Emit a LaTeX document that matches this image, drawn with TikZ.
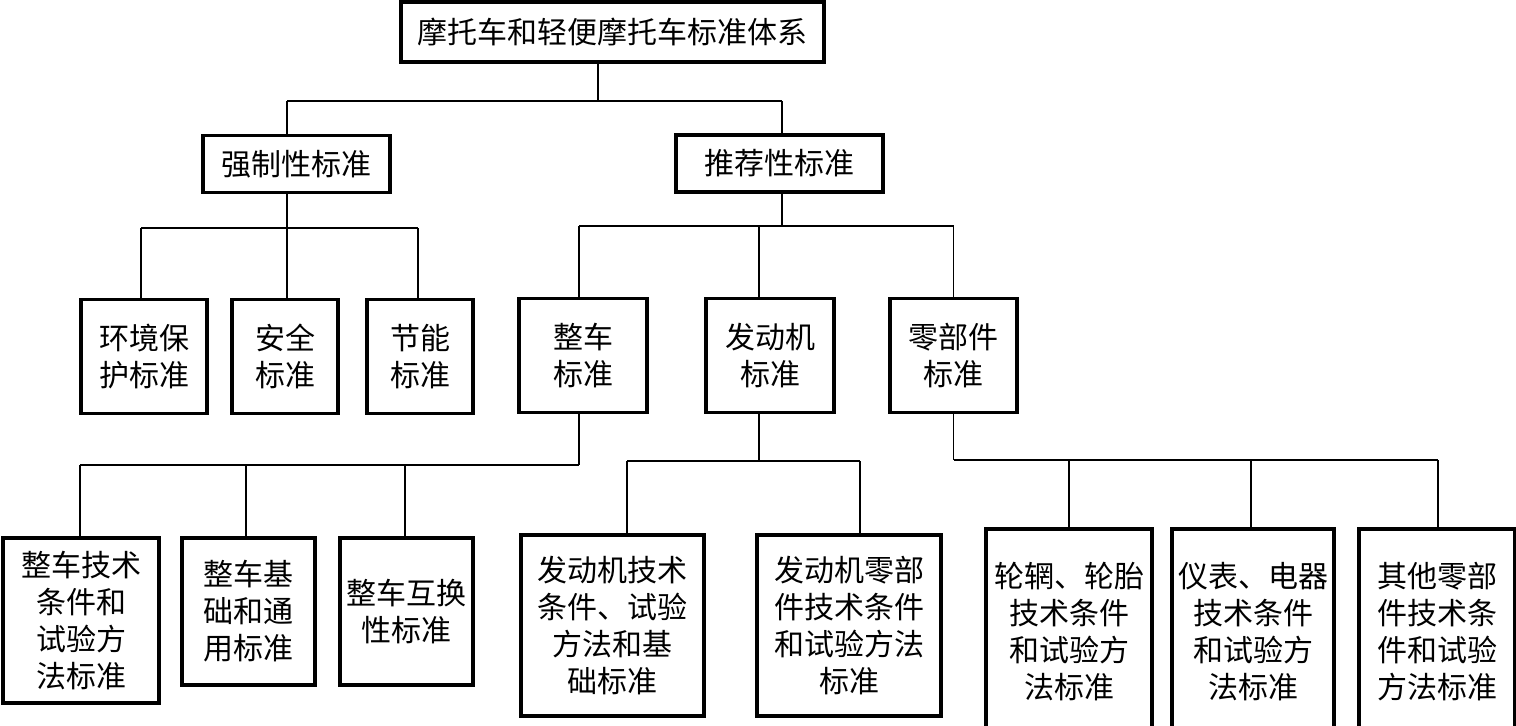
\documentclass[tikz,border=0pt]{standalone}
\usepackage{fontspec}
\setmainfont{Noto Sans CJK SC}
\begin{document}
\begin{tikzpicture}[x=0.5pt,y=-0.5pt,
  box/.style={draw,line width=1.7pt,align=center,inner sep=0pt,font=\fontsize{15pt}{18.5pt}\selectfont},
  tiertwo/.style={box,minimum height=28.5pt},
  tierthree/.style={box,minimum height=57pt},
  link/.style={line width=0.8pt}]
\clip (0,0) rectangle (1516,726);
% top
\node[box,minimum width=211.5pt,minimum height=30pt] (root) at (612.5,32) {摩托车和轻便摩托车标准体系};
\node[tiertwo,minimum width=93.5pt] (qz) at (296.5,164) {强制性标准};
\node[tiertwo,minimum width=103.5pt] (tj) at (779.5,163.5) {推荐性标准};
% third row
\node[tierthree,minimum width=63pt] (hj) at (144,356.5) {环境保\\护标准};
\node[tierthree,minimum width=53pt] (aq) at (285,356.5) {安全\\标准};
\node[tierthree,minimum width=53pt] (jn) at (420,356.5) {节能\\标准};
\node[tierthree,minimum width=64pt] (zc) at (583,355.5) {整车\\标准};
\node[tierthree,minimum width=64pt] (fdj) at (770,355.5) {发动机\\标准};
\node[tierthree,minimum width=63.5pt] (lbj) at (953.5,355.5) {零部件\\标准};
% bottom row
\node[box,minimum width=78pt,minimum height=82.5pt] (b1) at (81,620.5) {整车技术\\条件和\\试验方\\法标准};
\node[box,minimum width=66.5pt,minimum height=73.5pt] (b2) at (248.5,611.5) {整车基\\础和通\\用标准};
\node[box,minimum width=66.5pt,minimum height=73.5pt] (b3) at (406.5,611.5) {整车互换\\性标准};
\node[box,minimum width=91.5pt,minimum height=90.5pt] (e1) at (612.5,625.5) {发动机技术\\条件、试验\\方法和基\\础标准};
\node[box,minimum width=92pt,minimum height=90.5pt] (e2) at (849,625.5) {发动机零部\\件技术条件\\和试验方法\\标准};
\node[box,minimum width=83pt,minimum height=103pt] (p1) at (1069,632) {轮辋、轮胎\\技术条件\\和试验方\\法标准};
\node[box,minimum width=81pt,minimum height=103pt] (p2) at (1253,632) {仪表、电器\\技术条件\\和试验方\\法标准};
\node[box,minimum width=78pt,minimum height=103pt] (p3) at (1437,632) {其他零部\\件技术条\\件和试验\\方法标准};
% buses
\coordinate (busA) at (0,101);
\coordinate (busB) at (0,228);
\coordinate (busC) at (0,226);
\coordinate (busD) at (0,465);
\coordinate (busE) at (0,461);
\coordinate (busF) at (0,460);
\foreach \p/\s/\b in {root/-7.25/busA,qz/-4.75/busB,tj/1.25/busC,zc/-2/busD,fdj/-5.5/busE,lbj/0/busF}
  \draw[link] ([xshift=\s pt]\p.south) -- ([xshift=\s pt]\p.south |- \b);
\foreach \c/\s/\b in {qz/-4.75/busA,tj/1.25/busA,hj/-1.5/busB,aq/1/busB,jn/-1/busB,
                      zc/-2/busC,fdj/-5.5/busC,lbj/0/busC,b1/-0.5/busD,b2/-1.25/busD,b3/-0.75/busD,
                      e1/7.25/busE,e2/5.5/busE,p1/0/busF,p2/-1/busF,p3/0.5/busF}
  \draw[link] ([xshift=\s pt]\c.north) -- ([xshift=\s pt]\c.north |- \b);
\foreach \l/\sl/\r/\sr/\b in {qz.north/-4.75/tj.north/1.25/busA,hj.north/-1.5/jn.north/-1/busB,
                              zc.north/-2/lbj.north/0/busC,b1.north/-0.5/zc.south/-2/busD,
                              e1.north/7.25/e2.north/5.5/busE,lbj.south/0/p3.north/0.5/busF}
  \draw[link] ([xshift=\sl pt]\l |- \b) -- ([xshift=\sr pt]\r |- \b);
\end{tikzpicture}
\end{document}
